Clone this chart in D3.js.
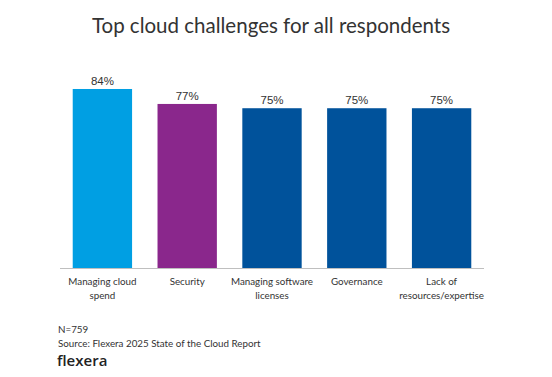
<!DOCTYPE html>
<html><head><meta charset="utf-8">
<script src="https://cdn.jsdelivr.net/npm/d3@7"></script>
<style>body{margin:0;background:#fff}</style>
</head><body>
<svg id="c" width="552" height="377"></svg>
<script>
const categories = [["Managing cloud","spend"],["Security"],["Managing software","licenses"],["Governance"],["Lack of","resources/expertise"]];
const values = [84, 77, 75, 75, 75];
const colors = ["#009fe3", "#8a278c", "#00529b", "#00529b", "#00529b"];

const svg = d3.select("#c");
const x = d3.scaleBand().domain(d3.range(values.length)).range([60, 484]).paddingInner(0.3).paddingOuter(0.15);
const y = d3.scaleLinear().domain([0, 100]).range([268.5, 54.8]);

svg.append("text").attr("x", 271).attr("y", 33).attr("text-anchor", "middle")
  .attr("font-family", "Lato, sans-serif").attr("font-size", 20.5).attr("fill", "#333")
  .text("Top cloud challenges for all respondents");

svg.selectAll("rect.bar").data(values).join("rect").attr("class","bar")
  .attr("x", (d,i)=>x(i)).attr("width", x.bandwidth())
  .attr("y", d=>y(d)).attr("height", d=>y(0)-y(d))
  .attr("fill", (d,i)=>colors[i]);

svg.append("line").attr("x1", 60).attr("x2", 484).attr("y1", y(0)).attr("y2", y(0))
  .attr("stroke", "#bfbfbf").attr("stroke-width", 1);

svg.selectAll("text.val").data(values).join("text").attr("class","val")
  .attr("x", (d,i)=>x(i)+x.bandwidth()/2).attr("y", d=>y(d)-4)
  .attr("text-anchor","middle").attr("font-family","Liberation Sans, Arial, sans-serif")
  .attr("font-size", 11.5).attr("fill","#333").text(d=>d+"%");

const lab = svg.selectAll("text.cat").data(categories).join("text").attr("class","cat")
  .attr("x", (d,i)=>x(i)+x.bandwidth()/2).attr("y", 285)
  .attr("text-anchor","middle").attr("font-family","Lato, sans-serif")
  .attr("font-size", 9.8).attr("fill","#333");
lab.selectAll("tspan").data(d=>d).join("tspan")
  .attr("x", function(){return this.parentNode.getAttribute("x");})
  .attr("dy", (d,i)=>i===0?0:13.5).text(d=>d);

svg.append("text").attr("x", 58).attr("y", 333).attr("font-family","Lato, sans-serif")
  .attr("font-size", 9.8).attr("fill","#333").text("N=759");
svg.append("text").attr("x", 58).attr("y", 347).attr("font-family","Lato, sans-serif")
  .attr("font-size", 9.8).attr("fill","#333").text("Source: Flexera 2025 State of the Cloud Report");
svg.append("text").attr("x", 57).attr("y", 366).attr("font-family","Open Sans, sans-serif")
  .attr("font-size", 15).attr("font-weight", 600).attr("fill","#222").text("flexera");
svg.append("circle").attr("cx", 104).attr("cy", 365).attr("r", 0.8).attr("fill","#aaa");
</script>
</body></html>
